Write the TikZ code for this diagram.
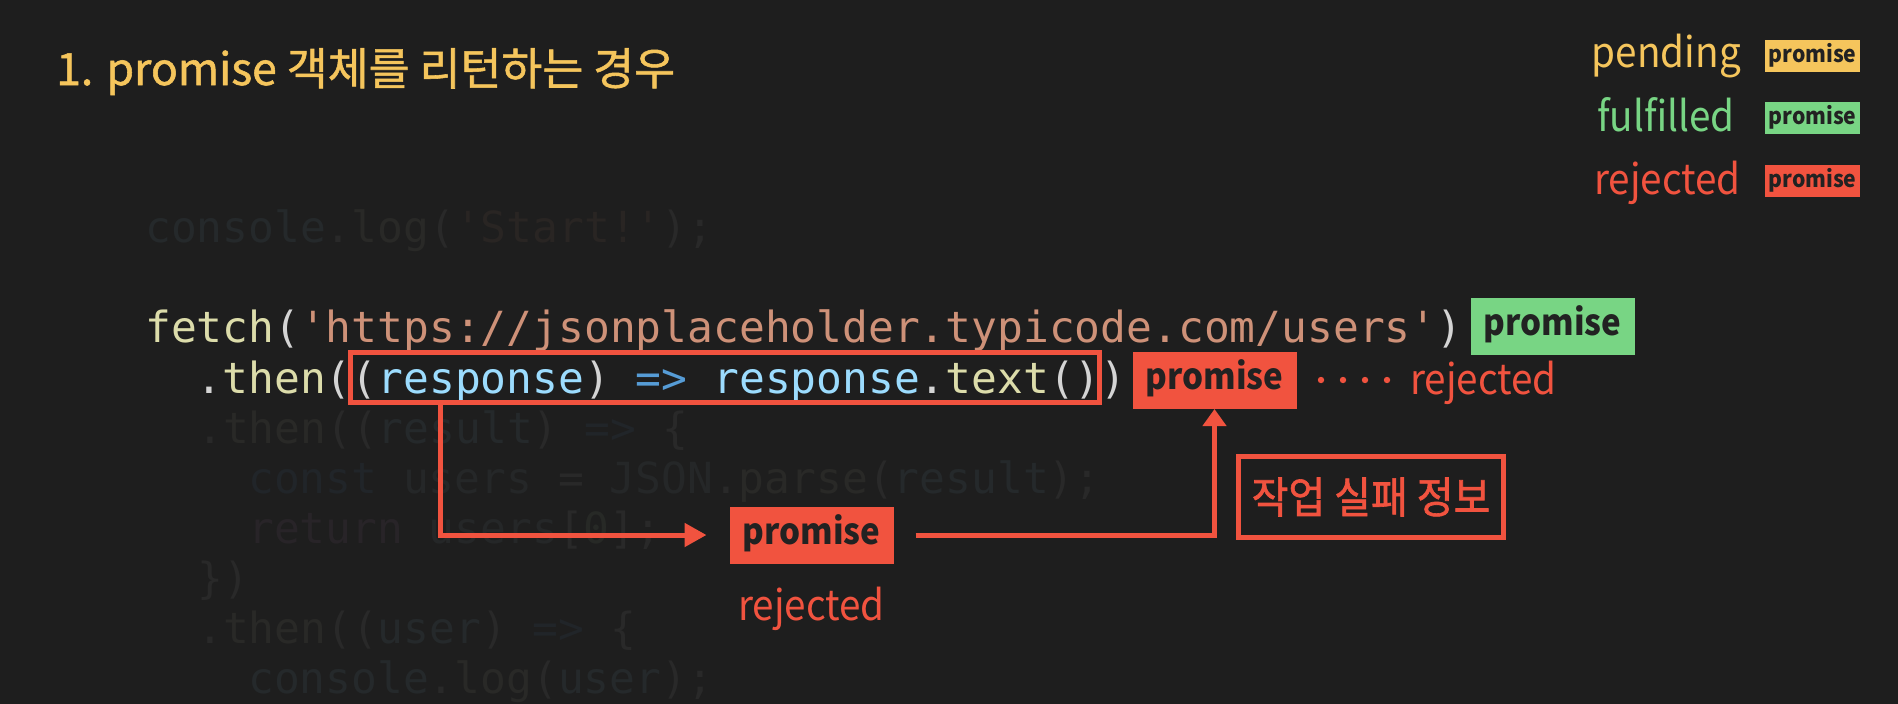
\documentclass[tikz,border=0pt]{standalone}
\usepackage{fontspec}
\setmainfont{Noto Sans CJK KR}
\newfontfamily\narrowfont[FakeStretch=0.92]{Noto Sans CJK KR}
\newfontfamily\headfont[FakeBold=1.2]{Noto Sans CJK KR}
\newfontfamily\infofont[FakeBold=1.4,FakeStretch=0.93]{Noto Sans CJK KR}
\newfontfamily\codefont[WordSpace={1,0,0}]{DejaVu Sans Mono}
\usetikzlibrary{arrows.meta}
\definecolor{bg}{HTML}{1E1E1E}
\definecolor{cyel}{HTML}{F5C55C}
\definecolor{cgrn}{HTML}{78D584}
\definecolor{cred}{HTML}{F1533F}
\definecolor{cink}{HTML}{222222}
\definecolor{cfn}{HTML}{DCDCAA}
\definecolor{cstr}{HTML}{CE9178}
\definecolor{cpun}{HTML}{D4D4D4}
\definecolor{cvar}{HTML}{9CDCFE}
\definecolor{ckw}{HTML}{569CD6}
\definecolor{ccst}{HTML}{8FB8C8}
\definecolor{cret}{HTML}{C586C0}
\definecolor{cnum}{HTML}{B5CEA8}
\newcommand\cF[1]{\textcolor{cfn}{#1}}
\newcommand\cS[1]{\textcolor{cstr}{#1}}
\newcommand\cP[1]{\textcolor{cpun}{#1}}
\newcommand\cV[1]{\textcolor{cvar}{#1}}
\newcommand\cK[1]{\textcolor{ckw}{#1}}
\newcommand\dF[1]{\textcolor{cfn!6!bg}{#1}}
\newcommand\dS[1]{\textcolor{cstr!6!bg}{#1}}
\newcommand\dP[1]{\textcolor{cpun!6!bg}{#1}}
\newcommand\dV[1]{\textcolor{cvar!6!bg}{#1}}
\newcommand\dK[1]{\textcolor{ckw!6!bg}{#1}}
\newcommand\dC[1]{\textcolor{ccst!6!bg}{#1}}
\newcommand\dR[1]{\textcolor{cret!6!bg}{#1}}
\newcommand\dN[1]{\textcolor{cnum!6!bg}{#1}}
\newcommand\q{\textquotesingle}
\tikzset{
  codeline/.style={anchor=base west, inner sep=0pt, font=\codefont\fontsize{42.9}{50}\selectfont},
  label/.style={inner sep=0pt, font=\narrowfont\fontsize{42}{50}\selectfont},
  bigbox/.style={inner sep=0pt, outer sep=0pt, minimum width=164pt, minimum height=57pt,
    text=cink, font=\narrowfont\bfseries\fontsize{36}{40}\selectfont, text height=24pt, text depth=6pt},
  smallbox/.style={inner sep=0pt, outer sep=0pt, minimum width=95pt, minimum height=32pt,
    text=cink, font=\narrowfont\bfseries\fontsize{23}{26}\selectfont, text height=15pt, text depth=3pt},
  arrA/.style={draw=cred, line width=5pt, -{Triangle[length=22pt,width=23pt]}},
  arrB/.style={draw=cred, line width=5pt, -{Triangle[length=17pt,width=23pt]}},
}
\begin{document}
\begin{tikzpicture}[x=1pt,y=-1pt]
\useasboundingbox (0,0) rectangle (1898,704);
\fill[bg] (0,0) rectangle (1898,704);

% title
\node[anchor=base west, inner sep=0pt, text=cyel, font=\headfont\fontsize{44.5}{52}\selectfont] (title) at (56,85) {1. promise 객체를 리턴하는 경우};

% legend
\node[label, anchor=base east, text=cyel] (lpend) at (1741,67) {pending};
\node[label, anchor=base east, text=cgrn] (lful) at (1735,131) {fulfilled};
\node[label, anchor=base east, text=cred] (lrej) at (1741,194) {rejected};
\node[smallbox, fill=cyel] (bpend) at (1812.5,56) {promise};
\node[smallbox, fill=cgrn] (bful) at (1812.5,118) {promise};
\node[smallbox, fill=cred] (brej) at (1812.5,181) {promise};

% code
\node[codeline] (c1) at (145,242) {\dV{console}\dP{.}\dF{log}\dP{(}\dS{\q Start!\q}\dP{);}};
\node[codeline] (c2) at (145,342) {\cF{fetch}\cP{(}\cS{\q https://jsonplaceholder.typicode.com/users\q}\cP{)}};
\node[codeline] (c3) at (145,393) {\hspace*{51.6pt}\cP{.}\cF{then}\cP{((}\cV{response}\cP{)} \cK{=>} \cV{response}\cP{.}\cF{text}\cP{())}};
\node[codeline] (c4) at (197,443) {\dP{.}\dF{then}\dP{((}\dV{result}\dP{)} \dK{=>} \dP{\{}};
\node[codeline] (c5) at (248,493) {\dK{const} \dC{users} \dP{=} \dC{JSON}\dP{.}\dF{parse}\dP{(}\dV{result}\dP{);}};
\node[codeline] (c6) at (248,543) {\dR{return} \dC{users}\dP{[}\dN{0}\dP{];}};
\node[codeline] (c7) at (197,593) {\dP{\})}};
\node[codeline] (c8) at (197,643) {\dP{.}\dF{then}\dP{((}\dV{user}\dP{)} \dK{=>} \dP{\{}};
\node[codeline] (c9) at (248,693) {\dV{console}\dP{.}\dF{log}\dP{(}\dV{user}\dP{);}};

% highlight box around the callback
\node[draw=cred, line width=5pt, inner sep=0pt, outer sep=0pt, minimum width=749pt, minimum height=49.5pt] (sel) at (724.5,377.25) {};

% promise boxes
\node[bigbox, fill=cgrn] (p1) at (1552.5,326.5) {promise};
\node[bigbox, fill=cred] (p2) at (1214.5,380.5) {promise};
\node[bigbox, fill=cred] (mid) at (811.5,535) {promise};

% dots and rejected labels
\foreach \dx in {1321,1343,1365,1387} \fill[cred] (\dx,380) circle (3.2pt);
\node[label, anchor=base west, text=cred] (rej2) at (1410,394) {rejected};
\node[label, anchor=base, text=cred] (rej3) at (811.5,620) {rejected};

% failure info box
\node[draw=cred, line width=5pt, inner sep=0pt, outer sep=0pt, minimum width=265pt, minimum height=81pt,
  text=cred, font=\infofont\fontsize{43}{50}\selectfont] (info) at (1371,497) {작업 실패 정보};

% connectors
\draw[arrA] ([xshift=90pt]sel.south west) |- ([xshift=-23pt]mid.west);
\draw[arrB] ([xshift=22pt]mid.east) -| (p2.south);
\end{tikzpicture}
\end{document}
